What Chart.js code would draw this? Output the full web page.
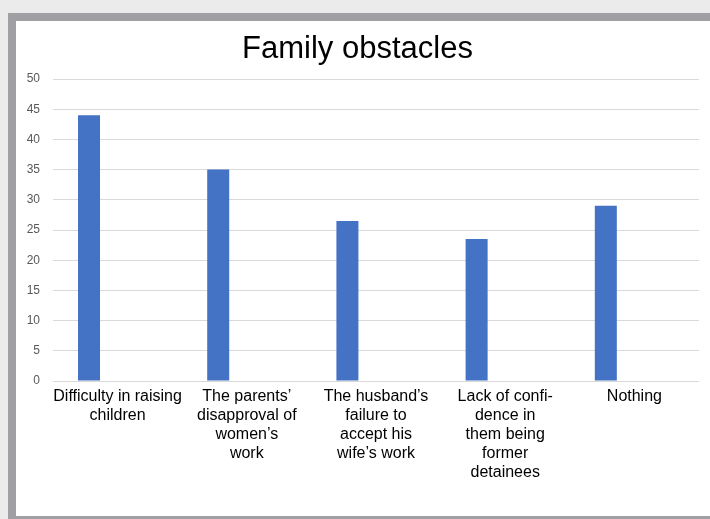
<!DOCTYPE html>
<html>
<head>
<meta charset="utf-8">
<script src="https://cdn.jsdelivr.net/npm/chart.js@4/dist/chart.umd.min.js"></script>
<style>
  html, body { margin: 0; padding: 0; }
  body { width: 710px; height: 519px; background: #ebebeb; position: relative; overflow: hidden; }
  #frame { position: absolute; left: 8px; top: 13px; width: 702px; height: 506px; background: #a0a0a4; }
  #inner { position: absolute; left: 16px; top: 21px; width: 694px; height: 495px; background: #ffffff; }
  canvas { display: block; }
</style>
</head>
<body>
<div id="frame"></div>
<div id="inner"><canvas id="c" width="694" height="495"></canvas></div>
<script>
const title = "Family obstacles";
const categories = [
  ["Difficulty in raising", "children"],
  ["The parents’", "disapproval of", "women’s", "work"],
  ["The husband’s", "failure to", "accept his", "wife’s work"],
  ["Lack of confi-", "dence in", "them being", "former", "detainees"],
  "Nothing"
];
const values = [44, 35, 26.5, 23.5, 29];
const emptySeries = [null, null, null, null, null];
const yMin = 0, yMax = 50, yStep = 5;

const ctx = document.getElementById('c');
new Chart(ctx, {
  type: 'bar',
  data: {
    labels: categories,
    datasets: [
      { data: values, backgroundColor: '#4472c4', borderWidth: 0,
        categoryPercentage: 0.885, barPercentage: 0.385 },
      { data: emptySeries, backgroundColor: '#ed7d31', borderWidth: 0,
        categoryPercentage: 0.885, barPercentage: 0.385 }
    ]
  },
  options: {
    responsive: false,
    animation: false,
    layout: { padding: { left: 0, right: 11, top: 0, bottom: 0 } },
    plugins: {
      legend: { display: false },
      tooltip: { enabled: false },
      title: {
        display: true,
        text: title,
        color: '#000000',
        font: { family: 'Liberation Sans, Arial, sans-serif', size: 31, weight: 'normal', lineHeight: 1.2 },
        padding: { top: 9.4, bottom: 11.4 }
      }
    },
    scales: {
      x: {
        grid: { display: false, drawTicks: false },
        border: { display: false },
        ticks: {
          color: '#000000',
          autoSkip: false,
          maxRotation: 0,
          minRotation: 0,
          padding: 6,
          font: { family: 'Liberation Sans, Arial, sans-serif', size: 16, lineHeight: 1.1875 }
        },
        afterFit: (s) => { s.height = 135; }
      },
      y: {
        min: yMin, max: yMax,
        grid: { color: '#d9d9d9', lineWidth: 1, drawTicks: false },
        border: { display: false },
        ticks: {
          stepSize: yStep,
          color: '#595959',
          padding: 13,
          font: { family: 'Liberation Sans, Arial, sans-serif', size: 12 }
        },
        afterFit: (s) => { s.width = 37; }
      }
    }
  }
});
</script>
</body>
</html>
